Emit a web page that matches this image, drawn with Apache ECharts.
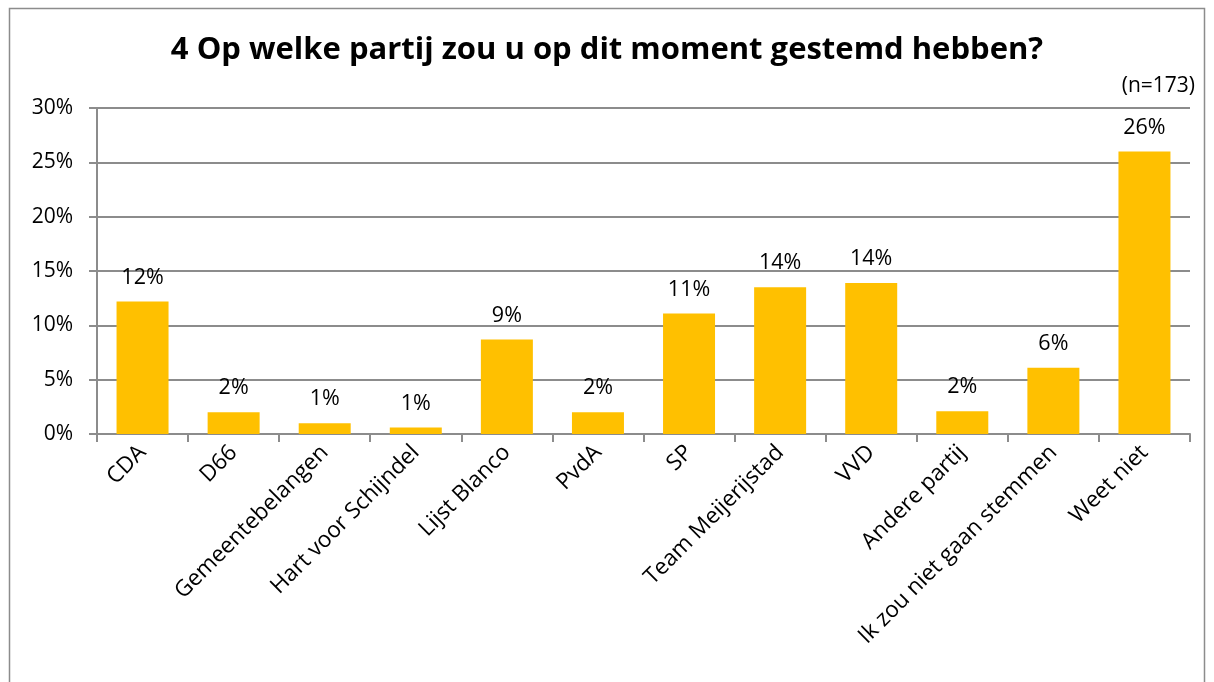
<!DOCTYPE html>
<html lang="nl">
<head>
    <meta charset="UTF-8">
    <title>Partijkeuze</title>
    <script src="https://cdn.jsdelivr.net/npm/echarts@6/dist/echarts.min.js"></script>
    <style>
        html, body { margin: 0; padding: 0; background: #fff; }
    </style>
</head>
<body>
    <div id="main" style="width: 1214px;height:682px;"></div>
    <script type="text/javascript">
        // categorieen en percentages
        var partijen = ['CDA', 'D66', 'Gemeentebelangen', 'Hart voor Schijndel', 'Lijst Blanco', 'PvdA',
            'SP', 'Team Meijerijstad', 'VVD', 'Andere partij', 'Ik zou niet gaan stemmen', 'Weet niet'];
        var percentages = [12.2, 2.0, 1.0, 0.6, 8.7, 2.0, 11.1, 13.5, 13.9, 2.1, 6.1, 26.0];
        var yTicks = [0, 5, 10, 15, 20, 25, 30];

        var font = '"Open Sans", "Liberation Sans", sans-serif';
        var myChart = echarts.init(document.getElementById('main'));

        var option = {
            animation: false,
            textStyle: { fontFamily: font },
            title: [{
                text: '4 Op welke partij zou u op dit moment gestemd hebben?',
                left: 'center',
                top: 30,
                textStyle: { fontSize: 31, fontWeight: 'bold', color: '#000', fontFamily: font }
            }, {
                text: '(n=173)',
                right: 14,
                top: 71,
                textStyle: { fontSize: 21, fontWeight: 'normal', color: '#000', fontFamily: font }
            }],
            graphic: [{
                type: 'rect',
                shape: { x: 9.5, y: 8.5, width: 1195, height: 700 },
                style: { fill: 'none', stroke: '#8c8c8c', lineWidth: 1.5 },
                silent: true
            }],
            grid: { left: 97, right: 24, top: 108, bottom: 248 },
            xAxis: {
                type: 'category',
                data: partijen,
                axisLine: { lineStyle: { color: '#8c8c8c', width: 2 } },
                axisTick: { show: true, length: 8, alignWithLabel: false, lineStyle: { color: '#8c8c8c', width: 2 } },
                axisLabel: { rotate: 45, margin: 15, fontSize: 22.5, color: '#000', interval: 0, fontFamily: font }
            },
            yAxis: {
                type: 'value',
                min: yTicks[0],
                max: yTicks[yTicks.length - 1],
                interval: 5,
                axisLine: { show: true, lineStyle: { color: '#8c8c8c', width: 2 } },
                axisTick: { show: true, length: 8, lineStyle: { color: '#8c8c8c', width: 2 } },
                splitLine: { lineStyle: { color: '#8c8c8c', width: 2 } },
                axisLabel: { fontSize: 21, color: '#000', margin: 24, fontFamily: font,
                    formatter: function (v) { return v + '%'; } }
            },
            series: [{
                type: 'bar',
                data: percentages,
                barWidth: 52,
                itemStyle: { color: '#FFC000' },
                label: {
                    show: true,
                    position: 'top',
                    distance: 13,
                    fontSize: 21.5,
                    color: '#000',
                    fontFamily: font,
                    formatter: function (p) { return Math.round(p.value) + '%'; }
                }
            }]
        };

        myChart.setOption(option);
    </script>
</body>
</html>
